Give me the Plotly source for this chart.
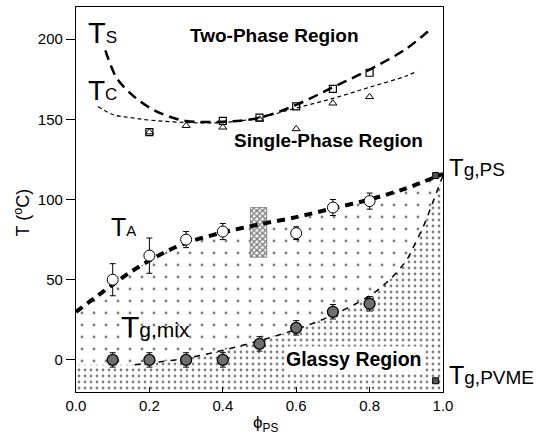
import plotly.graph_objects as go

# ---------------- data ----------------
phi_sq = [0.2, 0.4, 0.5, 0.6, 0.7, 0.8]
T_sq = [142, 149, 151, 158, 169, 179]

phi_tri = [0.2, 0.3, 0.4, 0.5, 0.6, 0.7, 0.8]
T_tri = [142, 146, 145, 150, 144, 160, 164]

phi_Ts = [0.08, 0.11, 0.14, 0.17, 0.21, 0.25, 0.30, 0.40, 0.50, 0.60, 0.70, 0.80, 0.90, 0.97]
T_Ts = [193, 176, 168, 162, 156, 152, 149, 148.5, 151, 159, 170, 181, 194, 207]

phi_Tc = [0.06, 0.10, 0.15, 0.20, 0.30, 0.40, 0.50, 0.60, 0.70, 0.80, 0.90, 0.93]
T_Tc = [158, 153, 151, 149.5, 148, 148, 151, 157, 163, 170, 177, 180]

phi_TA = [0.1, 0.2, 0.3, 0.4, 0.6, 0.7, 0.8]
T_TA = [50, 65, 75, 80, 79, 95, 99]
err_TA = [10, 11, 5, 5, 4, 5, 5]

phi_TA_curve = [0, 0.05, 0.1, 0.15, 0.2, 0.25, 0.3, 0.4, 0.5, 0.6, 0.7, 0.8, 0.9, 1.0]
T_TA_curve = [30, 38.5, 47, 55, 62, 68, 73, 79.5, 84.5, 89, 94.5, 100, 107, 116]

phi_Tg = [0.1, 0.2, 0.3, 0.4, 0.5, 0.6, 0.7, 0.8]
T_Tg = [0, 0, 0, 0, 10, 20, 30, 35]
err_Tg = [4.5, 4.5, 4.5, 4.5, 4.5, 4.5, 4.5, 4.5]

phi_Tg_curve = [0.16, 0.2, 0.3, 0.4, 0.5, 0.6, 0.7, 0.8, 0.85, 0.9, 0.925, 0.95, 0.975, 1.0]
T_Tg_curve = [-3, -2, 1, 6, 12, 19, 28, 40, 49, 62, 73, 85, 100, 115]

glass_floor_T = -3          # lower glassy band level on the PVME-rich side
T_axis_min, T_axis_max = -20, 220

band_phi = [0.475, 0.52]     # hatched T_A range at phi = 0.5
band_T = [64, 95]

phi_pure = [0.98, 0.98]
T_pure = [115, -13]          # Tg,PS and Tg,PVME

FONT = "Liberation Sans, Arial, sans-serif"

fig = go.Figure()

# sparse-dotted region under T_A
sx = phi_TA_curve + [phi_TA_curve[-1], phi_TA_curve[0]]
sy = T_TA_curve + [T_axis_min, T_axis_min]
fig.add_trace(go.Scatter(x=sx, y=sy, mode="lines", fill="toself", line=dict(width=0),
                         fillpattern=dict(shape=".", size=12, solidity=0.045,
                                          fgcolor="black", bgcolor="white"),
                         hoverinfo="skip", showlegend=False))

# dense-dotted glassy region under Tg,mix
dx = [0.0] + phi_Tg_curve + [phi_Tg_curve[-1], 0.0]
dy = [glass_floor_T] + T_Tg_curve + [T_axis_min, T_axis_min]
fig.add_trace(go.Scatter(x=dx, y=dy, mode="lines", fill="toself", line=dict(width=0),
                         fillpattern=dict(shape=".", size=6, solidity=0.17,
                                          fgcolor="black", bgcolor="white"),
                         hoverinfo="skip", showlegend=False))

# hatched band at 0.5
bx = [band_phi[0], band_phi[1], band_phi[1], band_phi[0], band_phi[0]]
by = [band_T[0], band_T[0], band_T[1], band_T[1], band_T[0]]
fig.add_trace(go.Scatter(x=bx, y=by, mode="lines", fill="toself", line=dict(width=0.5, color="#444"),
                         fillpattern=dict(shape="x", size=4, solidity=0.6,
                                          fgcolor="black", bgcolor="white"),
                         hoverinfo="skip", showlegend=False))

# curves
fig.add_trace(go.Scatter(x=phi_Ts, y=T_Ts, mode="lines", line=dict(color="black", width=2.5, dash="10px,6px", shape="spline"), showlegend=False))
fig.add_trace(go.Scatter(x=phi_Tc, y=T_Tc, mode="lines", line=dict(color="black", width=1.2, dash="4px,3px", shape="spline"), showlegend=False))
fig.add_trace(go.Scatter(x=phi_TA_curve, y=T_TA_curve, mode="lines", line=dict(color="black", width=4, dash="8px,6px", shape="spline", smoothing=0.8), showlegend=False))
fig.add_trace(go.Scatter(x=phi_Tg_curve, y=T_Tg_curve, mode="lines", line=dict(color="black", width=1.5, dash="6px,6px", shape="spline"), showlegend=False))

# markers
fig.add_trace(go.Scatter(x=phi_sq, y=T_sq, mode="markers",
                         marker=dict(symbol="square-open", size=7, color="black", line=dict(width=1.2)), showlegend=False))
fig.add_trace(go.Scatter(x=phi_tri, y=T_tri, mode="markers",
                         marker=dict(symbol="triangle-up-open", size=7, color="black", line=dict(width=1)), showlegend=False))
fig.add_trace(go.Scatter(x=phi_TA, y=T_TA, mode="markers",
                         error_y=dict(type="data", array=err_TA, color="black", thickness=1, width=3),
                         marker=dict(symbol="circle", size=11, color="white", line=dict(width=1, color="black")), showlegend=False))
fig.add_trace(go.Scatter(x=phi_Tg, y=T_Tg, mode="markers",
                         error_y=dict(type="data", array=err_Tg, color="black", thickness=1, width=3),
                         marker=dict(symbol="circle", size=11, color="#6e6e6e", line=dict(width=1.3, color="black")), showlegend=False))
fig.add_trace(go.Scatter(x=phi_pure, y=T_pure, mode="markers",
                         marker=dict(symbol="square", size=6, color="#555", line=dict(width=1, color="black")), showlegend=False))

ann = []
def label(text, x, y, size, xref="x", yref="y", xanchor="left", bg=None, angle=0):
    d = dict(text=text, x=x, y=y, xref=xref, yref=yref, xanchor=xanchor, yanchor="middle",
             showarrow=False, textangle=angle, font=dict(family=FONT, size=size, color="black"))
    if bg:
        d["bgcolor"] = bg
    ann.append(d)

def tsub(sub, small):
    return f"T<span style='font-size:{small}px'>{sub}</span>"

label(tsub("S", 17), 0.028, 204, 29)
label(tsub("C", 17), 0.028, 168, 28)
label(tsub("A", 15), 0.09, 83, 25)
label(tsub("g,mix", 21), 0.118, 21, 30)
label(tsub("g,PS", 19), 1.012, 120, 24, xref="paper")
label(tsub("g,PVME", 19), 1.012, -9.5, 25, xref="paper")
label("<b>Two-Phase Region</b>", 0.54, 202, 19, xanchor="center")
label("<b>Single-Phase Region</b>", 0.688, 137, 19, xanchor="center")
label("<b>Glassy Region</b>", 0.756, 0.5, 19.5, xanchor="center", bg="white")
label("T (<sup>o</sup>C)", -0.147, 92, 18, xref="paper", xanchor="center", angle=-90)
label("ϕ<sub>PS</sub>", 0.515, -0.083, 17, xref="paper", yref="paper", xanchor="center")

fig.update_layout(
    width=550, height=437,
    margin=dict(l=76, r=107, t=7, b=45),
    paper_bgcolor="white", plot_bgcolor="white",
    font=dict(family=FONT, size=15, color="black"),
    annotations=ann,
    xaxis=dict(range=[0, 1], tickvals=[0, 0.2, 0.4, 0.6, 0.8, 1.0], ticktext=["0.0", "0.2", "0.4", "0.6", "0.8", "1.0"],
               ticks="inside", ticklen=5, tickcolor="black", showline=True, linecolor="black", linewidth=1.3,
               mirror=True, showgrid=False, zeroline=False, tickfont=dict(size=15)),
    yaxis=dict(range=[T_axis_min, T_axis_max], tickvals=[0, 50, 100, 150, 200],
               ticks="outside", ticklen=9, tickcolor="black", showline=True, linecolor="black", linewidth=1.3,
               mirror=True, showgrid=False, zeroline=False, tickfont=dict(size=15)),
)

fig.write_html("out.html")
